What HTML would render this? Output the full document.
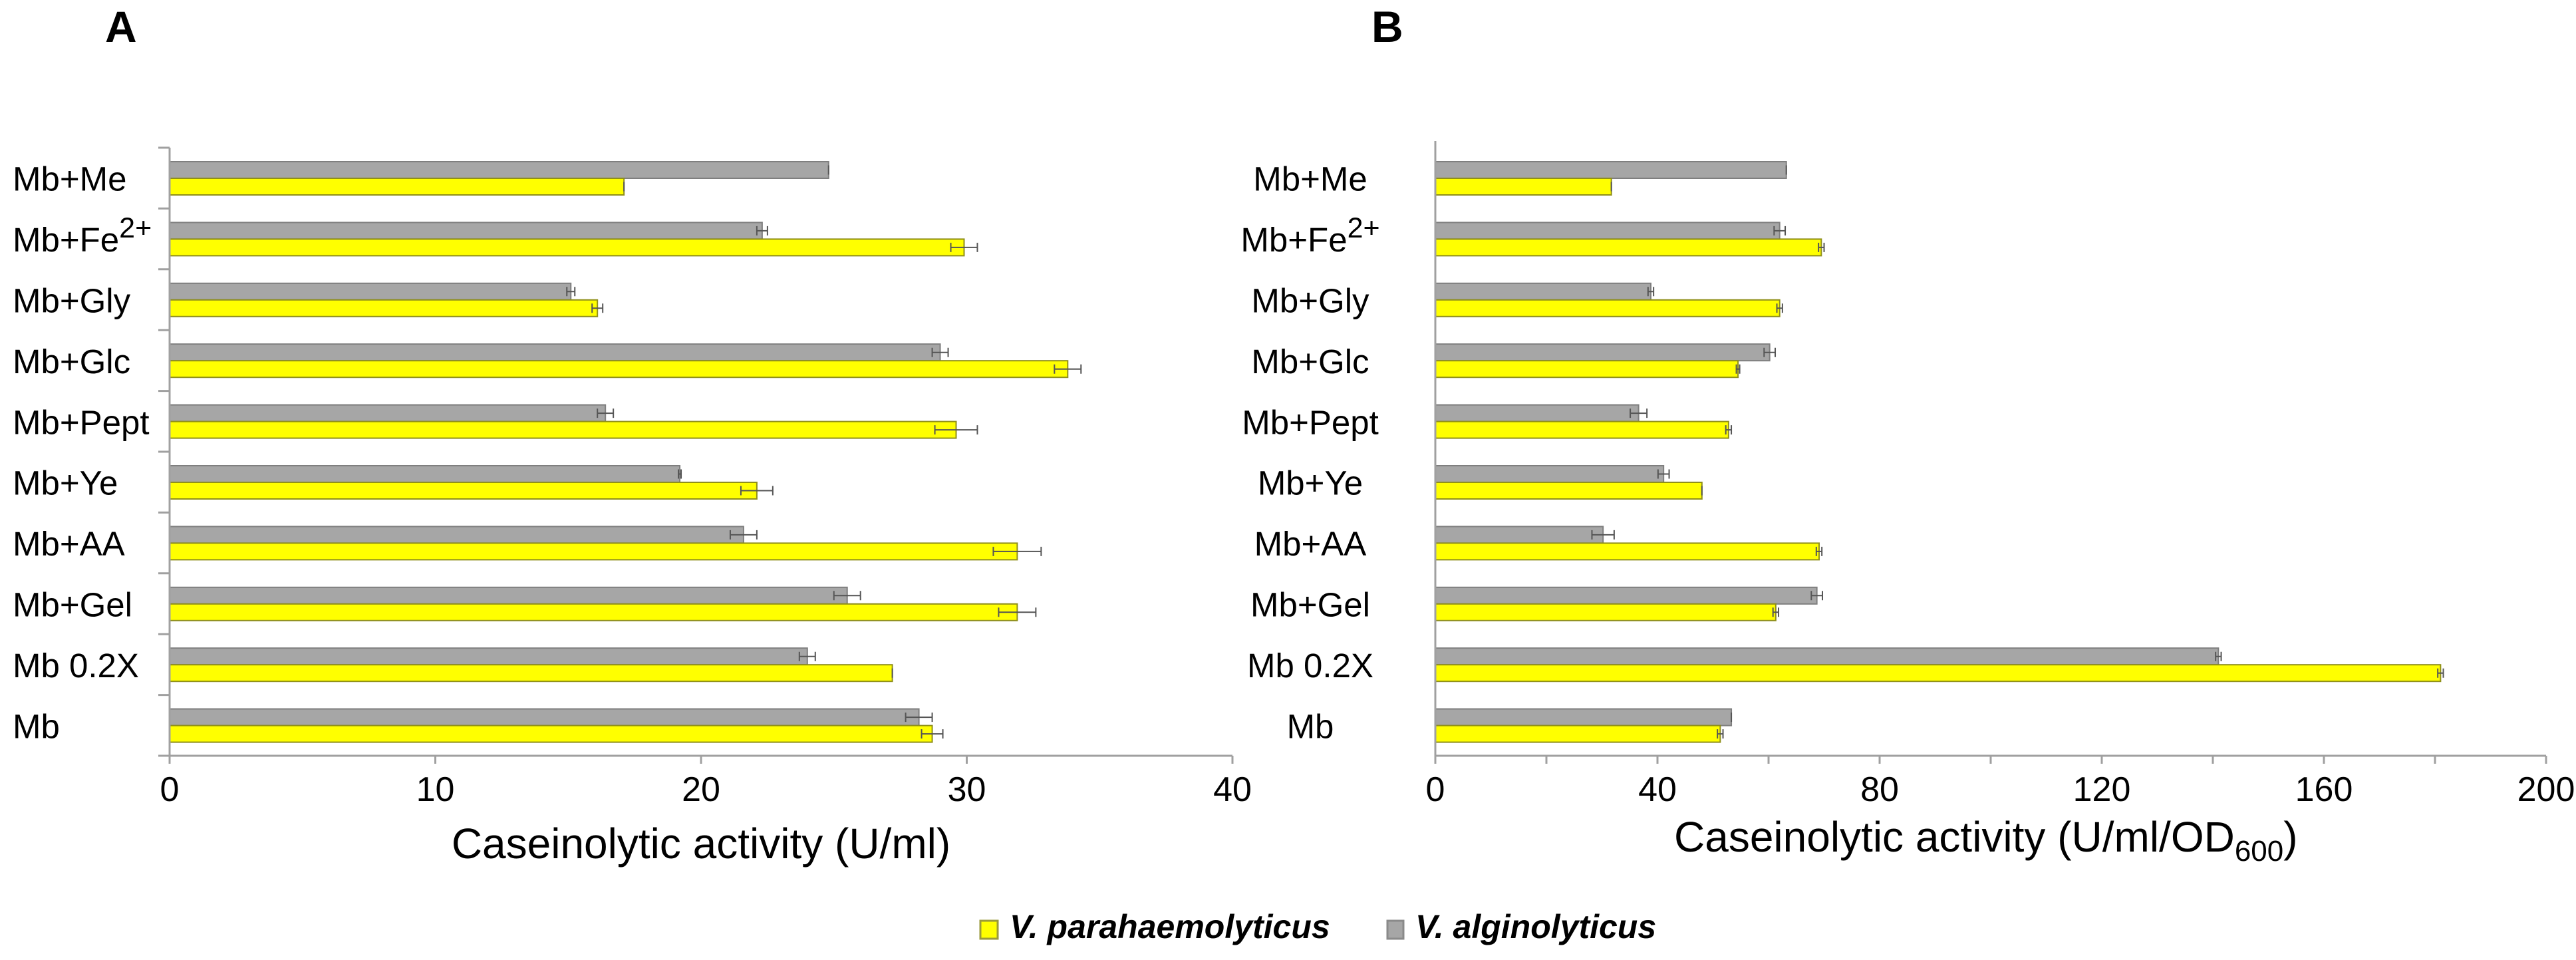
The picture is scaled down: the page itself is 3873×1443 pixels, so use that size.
<!DOCTYPE html>
<html><head><meta charset="utf-8"><style>
html,body{margin:0;padding:0;background:#fff;}
svg{display:block;font-family:"Liberation Sans",Arial,sans-serif;}
</style></head><body>
<svg id="fig" width="3873" height="1443" viewBox="0 0 3873 1443">
<text x="158" y="63" font-size="66" font-weight="bold">A</text>
<text x="2062" y="63" font-size="66" font-weight="bold">B</text>
<text x="1054" y="1290" font-size="64" text-anchor="middle">Caseinolytic activity (U/ml)</text>
<text x="2517" y="1280" font-size="64">Caseinolytic activity (U/ml/OD<tspan font-size="44" dy="14">600</tspan><tspan dy="-14">)</tspan></text>
<g>
 <rect x="1474" y="1384" width="26" height="27" fill="#ffff00" stroke="#9a9a3a" stroke-width="3"/>
 <text x="1518" y="1410" font-size="50" font-weight="bold" font-style="italic">V.  parahaemolyticus</text>
 <rect x="2086" y="1384" width="24" height="27" fill="#a6a6a6" stroke="#8a8a8a" stroke-width="3"/>
 <text x="2128" y="1410" font-size="50" font-weight="bold" font-style="italic">V. alginolyticus</text>
</g>
<g id="pa"></g>
<g id="pb"></g>
</svg>
<script>
const categories = ["Mb+Me","Mb+Fe","Mb+Gly","Mb+Glc","Mb+Pept","Mb+Ye","Mb+AA","Mb+Gel","Mb 0.2X","Mb"];
const aGray = [24.8,22.3,15.1,29.0,16.4,19.2,21.6,25.5,24.0,28.2];
const aYellow = [17.1,29.9,16.1,33.8,29.6,22.1,31.9,31.9,27.2,28.7];
const aGrayErr = [0,0.2,0.15,0.3,0.3,0.05,0.5,0.5,0.3,0.5];
const aYellowErr = [0,0.5,0.2,0.5,0.8,0.6,0.9,0.7,0,0.4];
const aTicks = [0,10,20,30,40];
const aLabelTicks = [0,10,20,30,40];
const bGray = [63.2,62.0,38.8,60.2,36.6,41.1,30.2,68.7,141,53.3];
const bYellow = [31.7,69.5,62.0,54.5,52.8,48.0,69.1,61.3,181,51.3];
const bGrayErr = [0,1,0.5,1,1.5,1,2,1,0.5,0];
const bYellowErr = [0,0.5,0.5,0.3,0.5,0,0.5,0.5,0.5,0.5];
const bTicks = [0,20,40,60,80,100,120,140,160,180,200];
const bLabelTicks = [0,40,80,120,160,200];

const NS="http://www.w3.org/2000/svg";
function mk(parent,tag,attrs,text){const e=document.createElementNS(NS,tag);for(const k in attrs)e.setAttribute(k,attrs[k]);if(text!==undefined)e.textContent=text;parent.appendChild(e);return e;}
const TOP=222, BOT=1136, N=categories.length, BAND=(BOT-TOP)/N;
function yBand(i){return TOP+i*BAND;}

function panel(g,x0,x1,max,gray,yellow,gErr,yErr,ticks,labTicks,labelMode,pfx,yTicks){
  const xs=v=>x0+(x1-x0)*v/max;
  for(let i=0;i<N;i++){
    const yb=yBand(i);
    const r1=mk(g,'rect',{x:xs(0),y:yb+21,width:xs(gray[i])-xs(0),height:25,fill:'#a6a6a6',stroke:'#7f7f7f','stroke-width':2});
    
    
    const r2=mk(g,'rect',{x:xs(0),y:yb+46,width:xs(yellow[i])-xs(0),height:25,fill:'#ffff00',stroke:'#8f8f1a','stroke-width':2});
    
    
    [[gray[i],gErr[i],yb+33.5],[yellow[i],yErr[i],yb+58.5]].forEach(([v,e,cy])=>{
      const a=xs(v-e),b=xs(v+e);
      const eb=mk(g,'path',{d:`M${a},${cy}H${b}M${a},${cy-7}V${cy+7}M${b},${cy-7}V${cy+7}`,stroke:'#555',fill:'none','stroke-width':2});
      
      
    });
    let t;
    const base=yb+BAND/2+19;
    const txt=categories[i];
    if(labelMode==='left'){t=mk(g,'text',{x:19,y:base,'font-size':51});}
    else{t=mk(g,'text',{x:1970,y:base,'font-size':51,'text-anchor':'middle'});}
    t.textContent=txt;
    if(txt==='Mb+Fe'){mk(t,'tspan',{'font-size':43,dy:-21},'2+');}
    
    
  }
  const ya=mk(g,'line',{x1:x0,y1:TOP-(yTicks?0:10),x2:x0,y2:BOT,stroke:'#a0a0a0','stroke-width':3});
  
  
  if(yTicks){for(let i=0;i<=N;i++){const tk=mk(g,'line',{x1:x0-17,x2:x0,y1:yBand(i),y2:yBand(i),stroke:'#a0a0a0','stroke-width':3});
    
    }}
  const xa=mk(g,'line',{x1:x0,y1:BOT,x2:x1,y2:BOT,stroke:'#a0a0a0','stroke-width':3});
  
  
  ticks.forEach(v=>{const tk=mk(g,'line',{x1:xs(v),x2:xs(v),y1:BOT,y2:BOT+12,stroke:'#a0a0a0','stroke-width':3});
    
    });
  labTicks.forEach(v=>{const tl=mk(g,'text',{x:xs(v),y:1204,'font-size':52,'text-anchor':'middle'},String(v));
    
    });
}
panel(document.getElementById('pa'),255,1853,40,aGray,aYellow,aGrayErr,aYellowErr,aTicks,aLabelTicks,'left','a-',true);
panel(document.getElementById('pb'),2158,3828,200,bGray,bYellow,bGrayErr,bYellowErr,bTicks,bLabelTicks,'center','b-',false);
</script>
</body></html>
